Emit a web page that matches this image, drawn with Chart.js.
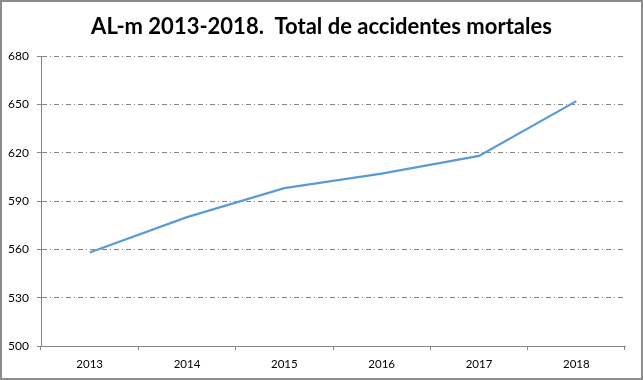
<!DOCTYPE html>
<html lang="es">
<head>
<meta charset="utf-8">
<title>AL-m 2013-2018. Total de accidentes mortales</title>
<script src="https://cdn.jsdelivr.net/npm/chart.js@4/dist/chart.umd.min.js"></script>
<style>
  html, body { margin: 0; padding: 0; background: #fff; }
  #wrap { position: relative; width: 643px; height: 380px; }
</style>
</head>
<body>
<div id="wrap"><canvas id="chart" width="643" height="380"></canvas></div>
<script>
'use strict';

// ── Data ─────────────────────────────────────────────────────────────────────

const years = ['2013', '2014', '2015', '2016', '2017', '2018'];
const fatalAccidents = [558, 580, 598, 607, 618, 652];
const yTicks = [500, 530, 560, 590, 620, 650, 680];

const chartTitle = 'AL-m 2013-2018.  Total de accidentes mortales';

// ── Helpers ──────────────────────────────────────────────────────────────────

const AXIS_GREY = '#868686';
const FONT = 'Lato, "Open Sans", sans-serif';

// white background + grey frame round the whole picture
const framePlugin = {
  id: 'frame',
  beforeDraw(chart) {
    const { ctx, width, height } = chart;
    ctx.save();
    ctx.fillStyle = '#fff';
    ctx.fillRect(0, 0, width, height);
    ctx.restore();
  },
  afterDraw(chart) {
    const { ctx, width, height } = chart;
    ctx.save();
    ctx.strokeStyle = '#8c8c8c';
    ctx.lineWidth = 2;
    ctx.strokeRect(1, 1, width - 2, height - 2);
    ctx.restore();
  }
};

// ── Chart ────────────────────────────────────────────────────────────────────

new Chart(document.getElementById('chart'), {
  type: 'line',
  data: {
    labels: years,
    datasets: [{
      label: 'Total de accidentes mortales',
      data: fatalAccidents,
      borderColor: '#5b9bd5',
      borderWidth: 2.25,
      pointRadius: 0,
      tension: 0,
      fill: false
    }]
  },
  options: {
    responsive: false,
    animation: false,
    layout: { padding: 0 },
    plugins: {
      legend: { display: false },
      tooltip: { enabled: false },
      title: {
        display: true,
        text: chartTitle,
        color: '#000',
        font: { family: FONT, size: 22, weight: 'bold', lineHeight: 1.2 },
        padding: { top: 14, bottom: 15.6 }
      }
    },
    scales: {
      x: {
        offset: true,
        grid: {
          offset: true,
          drawOnChartArea: false,
          tickLength: 4,
          tickColor: AXIS_GREY
        },
        border: { color: AXIS_GREY, width: 1 },
        ticks: { color: '#000', padding: 7, font: { family: FONT, size: 11.5 }, maxRotation: 0 },
        afterFit(scale) { scale.height = 34; }
      },
      y: {
        min: 500,
        max: 680,
        afterBuildTicks(scale) { scale.ticks = yTicks.map(v => ({ value: v })); },
        grid: {
          color: AXIS_GREY,
          lineWidth: 1,
          tickBorderDash: [],
          tickLength: 4,
          tickColor: AXIS_GREY
        },
        border: { color: AXIS_GREY, width: 1, dash: [5, 3, 1, 3] },
        ticks: { color: '#000', padding: 8, font: { family: FONT, size: 12 } },
        afterFit(scale) { scale.width = 41; }
      },
      // empty right-hand strip so the title stays centred on the full picture
      spacer: {
        type: 'linear',
        position: 'right',
        min: 0,
        max: 1,
        grid: { display: false },
        border: { display: false },
        ticks: { display: false },
        afterFit(scale) { scale.width = 18; }
      }
    }
  },
  plugins: [framePlugin]
});
</script>
</body>
</html>
